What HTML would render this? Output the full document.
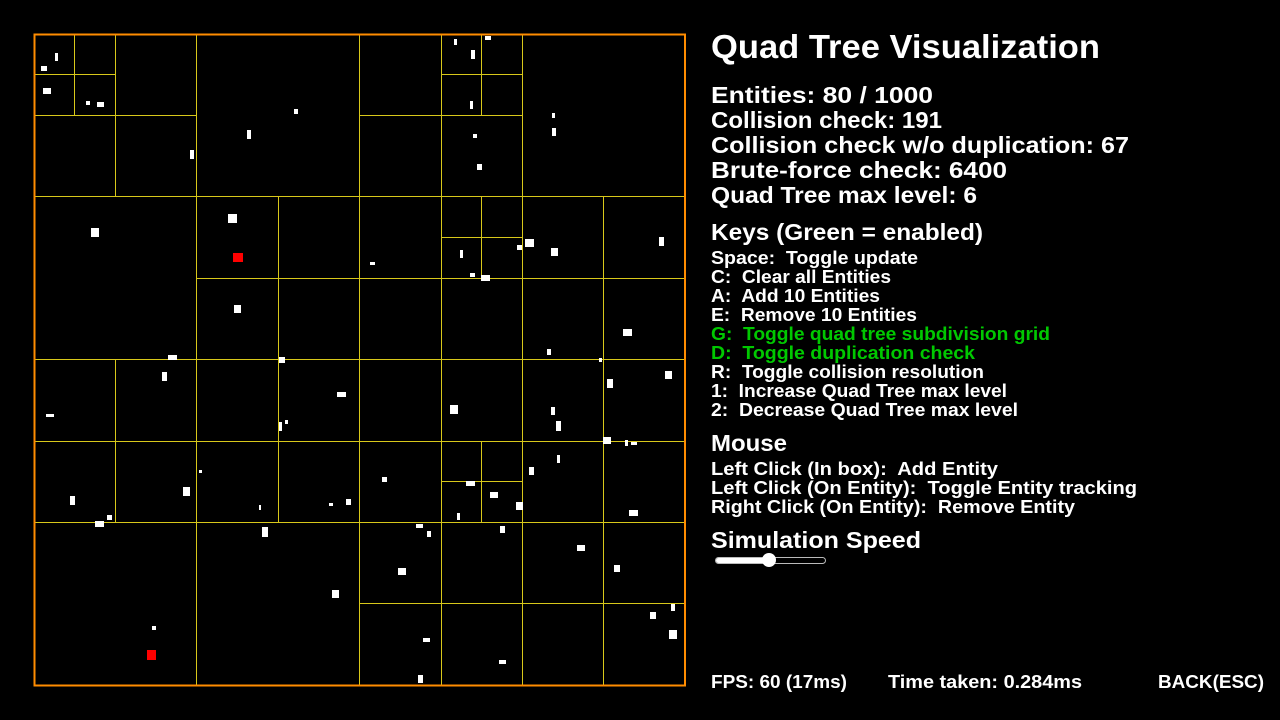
<!DOCTYPE html>
<html><head><meta charset="utf-8"><style>
html,body{margin:0;padding:0;background:#000;width:1280px;height:720px;overflow:hidden}
svg text{font-family:"Liberation Sans",sans-serif;fill:#fff;font-weight:bold;white-space:pre}
</style></head><body>
<svg id="s" width="1280" height="720" viewBox="0 0 1280 720">
<rect x="0" y="0" width="1280" height="720" fill="#000"/>
<g id="grid" shape-rendering="crispEdges"></g>
<g id="ents"></g>
<rect x="34.5" y="34.5" width="650.5" height="651" fill="none" stroke="#ff8c00" stroke-width="2"/>
<g>
<text x="711" y="58" font-size="33" textLength="389" lengthAdjust="spacingAndGlyphs">Quad Tree Visualization</text>
<text x="711" y="103" font-size="23" textLength="222" lengthAdjust="spacingAndGlyphs">Entities: 80 / 1000</text>
<text x="711" y="128" font-size="23" textLength="231" lengthAdjust="spacingAndGlyphs">Collision check: 191</text>
<text x="711" y="153" font-size="23" textLength="418" lengthAdjust="spacingAndGlyphs">Collision check w/o duplication: 67</text>
<text x="711" y="178" font-size="23" textLength="296" lengthAdjust="spacingAndGlyphs">Brute-force check: 6400</text>
<text x="711" y="203" font-size="23" textLength="266" lengthAdjust="spacingAndGlyphs">Quad Tree max level: 6</text>
<text x="711" y="240" font-size="23" textLength="272" lengthAdjust="spacingAndGlyphs">Keys (Green = enabled)</text>
<g font-size="18">
<text x="711" y="264" textLength="207" lengthAdjust="spacingAndGlyphs">Space:  Toggle update</text>
<text x="711" y="283" textLength="180" lengthAdjust="spacingAndGlyphs">C:  Clear all Entities</text>
<text x="711" y="302" textLength="169" lengthAdjust="spacingAndGlyphs">A:  Add 10 Entities</text>
<text x="711" y="321" textLength="206" lengthAdjust="spacingAndGlyphs">E:  Remove 10 Entities</text>
<text x="711" y="340" textLength="339" lengthAdjust="spacingAndGlyphs" style="fill:#00c800">G:  Toggle quad tree subdivision grid</text>
<text x="711" y="359" textLength="264" lengthAdjust="spacingAndGlyphs" style="fill:#00c800">D:  Toggle duplication check</text>
<text x="711" y="378" textLength="273" lengthAdjust="spacingAndGlyphs">R:  Toggle collision resolution</text>
<text x="711" y="397" textLength="296" lengthAdjust="spacingAndGlyphs">1:  Increase Quad Tree max level</text>
<text x="711" y="416" textLength="307" lengthAdjust="spacingAndGlyphs">2:  Decrease Quad Tree max level</text>
</g>
<text x="711" y="451" font-size="23" textLength="76" lengthAdjust="spacingAndGlyphs">Mouse</text>
<g font-size="18">
<text x="711" y="475" textLength="287" lengthAdjust="spacingAndGlyphs">Left Click (In box):  Add Entity</text>
<text x="711" y="494" textLength="426" lengthAdjust="spacingAndGlyphs">Left Click (On Entity):  Toggle Entity tracking</text>
<text x="711" y="513" textLength="364" lengthAdjust="spacingAndGlyphs">Right Click (On Entity):  Remove Entity</text>
</g>
<text x="711" y="548" font-size="23" textLength="210" lengthAdjust="spacingAndGlyphs">Simulation Speed</text>
<g>
<rect x="715.5" y="557.5" width="110" height="6" rx="3" fill="#000" stroke="#bbb" stroke-width="1"/>
<rect x="716" y="558" width="53" height="5" rx="2.5" fill="#fff"/>
<circle cx="769" cy="560" r="7" fill="#fff"/>
</g>
<g font-size="18">
<text x="711" y="688" textLength="136" lengthAdjust="spacingAndGlyphs">FPS: 60 (17ms)</text>
<text x="888" y="688" textLength="194" lengthAdjust="spacingAndGlyphs">Time taken: 0.284ms</text>
<text x="1158" y="688" textLength="106" lengthAdjust="spacingAndGlyphs">BACK(ESC)</text>
</g>
</g>
</svg>
<script>
// quad tree nodes that are subdivided (path of quadrant indices: 0=TL,1=TR,2=BL,3=BR)
const splitNodes = ["", "0", "00", "000", "03", "1", "10", "101", "12", "121", "13", "2", "20", "21", "3", "30", "303", "31", "32", "33"];
// entity positions (x, y, w, h) in screen px
const entX = [55,41,43,86,97,294,247,190,228,91,234,168,279,454,471,485,470,473,477,552,552,659,525,551,517,460,470,481,370,623,547,46,162,337,279,285,450,551,556,607,665,599,603,625,631,557,529,382,466,490,516,457,346,329,259,199,183,70,95,107,262,416,427,500,577,614,629,398,332,669,650,671,423,499,418,152];
const entY = [53,66,88,101,102,109,130,150,214,228,305,355,357,39,50,36,101,134,164,113,128,237,239,248,245,250,273,275,262,329,349,414,372,392,422,420,405,407,421,379,371,358,437,440,442,455,467,477,481,492,502,513,499,503,505,470,487,496,521,515,527,524,531,526,545,565,510,568,590,630,612,604,638,660,675,626];
const entW = [3,6,8,4,7,4,4,4,9,8,7,9,6,3,4,6,3,4,5,3,4,5,9,7,5,3,5,9,5,9,4,8,5,9,3,3,8,4,5,6,7,3,8,3,6,3,5,5,9,8,7,3,5,4,2,3,7,5,9,5,6,7,4,5,8,6,9,8,7,8,6,4,7,7,5,4];
const entH = [8,5,6,4,5,5,9,9,9,9,8,5,6,6,9,4,8,4,6,5,8,9,8,8,5,8,4,6,3,7,6,3,9,5,9,4,9,8,10,9,8,4,7,6,3,8,8,5,5,6,8,7,6,3,5,3,9,9,6,5,10,4,6,7,6,7,6,7,8,9,7,7,4,4,8,4];
// tracked (red) entities
const redX = [233,147], redY = [253,650], redW = [10,9], redH = [9,10];

const X0 = 34, Y0 = 34, SIZE = 651;
const NS = "http://www.w3.org/2000/svg";
const grid = document.getElementById('grid');
function nodeRect(p){let x=0,y=0,s=SIZE;for(const c of p){s/=2;if(c==='1'||c==='3')x+=s;if(c==='2'||c==='3')y+=s;}return {x,y,s};}
function px(v){return Math.floor(34+v+0.2)+0.5;}
function line(x1,y1,x2,y2){
  const l=document.createElementNS(NS,'line');
  l.setAttribute('x1',x1);l.setAttribute('y1',y1);l.setAttribute('x2',x2);l.setAttribute('y2',y2);
  l.setAttribute('stroke','#d8c81a');l.setAttribute('stroke-width','1');
  
  
  grid.appendChild(l);
}
splitNodes.forEach(p=>{const r=nodeRect(p);const h=r.s/2;
  const xm=px(r.x+h), ym=px(r.y+h);
  line(xm,X0+r.y,xm,X0+r.y+r.s);
  line(Y0+r.x,ym,Y0+r.x+r.s,ym);});
const ents=document.getElementById('ents');
function ent(x,y,w,h,c,name){
  const r=document.createElementNS(NS,'rect');
  r.setAttribute('x',x);r.setAttribute('y',y);r.setAttribute('width',w);r.setAttribute('height',h);r.setAttribute('fill',c);
  
  
  ents.appendChild(r);
}
entX.forEach((x,i)=>ent(x,entY[i],entW[i],entH[i],'#fff','entity'));
redX.forEach((x,i)=>ent(x,redY[i],redW[i],redH[i],'#f00','tracked-entity'));
</script>
</body></html>
